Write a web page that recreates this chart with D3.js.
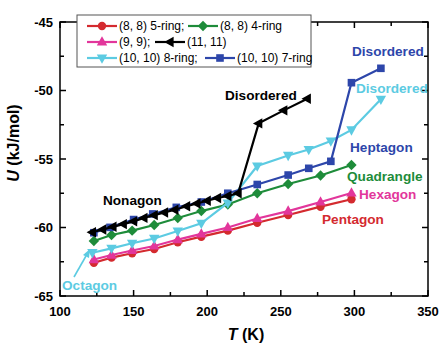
<!DOCTYPE html>
<html><head><meta charset="utf-8">
<script src="https://cdn.jsdelivr.net/npm/d3@7/dist/d3.min.js"></script>
<style>body{margin:0;background:#fff}svg{display:block;font-family:"Liberation Sans",Arial,sans-serif}</style>
</head><body>
<script>
// ---- data ----
const tA = [123,135,149,164,180,196,214,234,255,277,298];
const u5ring = [-62.57,-62.20,-61.88,-61.57,-61.08,-60.67,-60.23,-59.65,-59.09,-58.48,-57.94];
const u9 = [-62.34,-62.01,-61.68,-61.35,-60.88,-60.47,-60.00,-59.34,-58.80,-58.14,-57.48];
const u4ring = [-60.99,-60.55,-60.23,-59.82,-59.31,-58.80,-58.32,-57.50,-56.82,-56.20,-55.44];
const tB = [123,134,150,163,179,196,214,234,255,269,284,298,318];
const u7ring = [-60.38,-59.99,-59.42,-59.01,-58.53,-58.14,-57.50,-56.86,-56.17,-55.68,-55.17,-49.43,-48.38];
const tC = [122,135,149,164,180,196,214,234,255,269,284,298,318];
const u8ring = [-61.84,-61.52,-61.15,-60.80,-60.26,-59.69,-58.21,-55.51,-54.74,-54.31,-53.69,-52.88,-50.64];
const tD = [122,129,136,143,150,157,164,171,178,186,193,200,207,214,221,235,252,268];
const u11 = [-60.35,-60.15,-59.95,-59.75,-59.55,-59.30,-59.10,-58.90,-58.70,-58.45,-58.25,-58.05,-57.85,-57.70,-57.50,-52.40,-51.45,-50.60];
const xTicks = [100,150,200,250,300,350];
const yTicks = [-65,-60,-55,-50,-45];

const series = [
  {name:"(8, 8) 5-ring;", t:tA, u:u5ring, color:"#d42a2f", sym:"circle"},
  {name:"(9, 9);", t:tA, u:u9, color:"#e2369b", sym:"triUp"},
  {name:"(8, 8)  4-ring", t:tA, u:u4ring, color:"#1e8c3a", sym:"diamond"},
  {name:"(10, 10) 8-ring;", t:tC, u:u8ring, color:"#5ccbe2", sym:"triDown"},
  {name:"(10, 10) 7-ring", t:tB, u:u7ring, color:"#2d46aa", sym:"square"},
  {name:"(11, 11)", t:tD, u:u11, color:"#000000", sym:"triLeft"}
];

const W=441,H=343;
const svg=d3.select("body").append("svg").attr("width",W).attr("height",H);
const x=d3.scaleLinear().domain([100,350]).range([60,428]);
const y=d3.scaleLinear().domain([-65,-45]).range([296,22]);

function drawSym(g,sym,cx,cy,color){
  if(sym==="circle") g.append("circle").attr("cx",cx).attr("cy",cy).attr("r",4.2).attr("fill",color);
  else if(sym==="square") g.append("rect").attr("x",cx-3.8).attr("y",cy-3.8).attr("width",7.6).attr("height",7.6).attr("fill",color);
  else {
    let pts;
    if(sym==="diamond") pts=[[0,-5.2],[5.2,0],[0,5.2],[-5.2,0]];
    else if(sym==="triUp") pts=[[0,-5.8],[5.2,3.6],[-5.2,3.6]];
    else if(sym==="triDown") pts=[[0,5.8],[5.2,-3.6],[-5.2,-3.6]];
    else if(sym==="triLeft") pts=[[-5.8,0],[3.6,-5.2],[3.6,5.2]];
    g.append("polygon").attr("points",pts.map(p=>(cx+p[0])+","+(cy+p[1])).join(" ")).attr("fill",color);
  }
}

// frame and ticks
const frame=svg.append("g").attr("stroke","#000").attr("stroke-width",1.5);
frame.append("rect").attr("x",60).attr("y",22).attr("width",368).attr("height",274).attr("fill","none");
const xMinor=d3.range(100,351,25), yMinor=d3.range(-65,-44.9,2.5);
xMinor.forEach(v=>{
  const major=xTicks.includes(v); const L=major?6:4;
  frame.append("line").attr("x1",x(v)).attr("x2",x(v)).attr("y1",296).attr("y2",296-L);
  frame.append("line").attr("x1",x(v)).attr("x2",x(v)).attr("y1",22).attr("y2",22+L);
});
yMinor.forEach(v=>{
  const major=yTicks.includes(v); const L=major?6:4;
  frame.append("line").attr("y1",y(v)).attr("y2",y(v)).attr("x1",60).attr("x2",60+L);
  frame.append("line").attr("y1",y(v)).attr("y2",y(v)).attr("x1",428).attr("x2",428-L);
});
svg.append("g").selectAll("text").data(xTicks).join("text")
  .attr("x",d=>x(d)).attr("y",316).attr("text-anchor","middle")
  .attr("font-size",13).attr("font-weight","bold").text(d=>d);
svg.append("g").selectAll("text").data(yTicks).join("text")
  .attr("x",53).attr("y",d=>y(d)+4.5).attr("text-anchor","end")
  .attr("font-size",13).attr("font-weight","bold").text(d=>String(d).replace("\u2212","-"));
// axis titles
const xt=svg.append("text").attr("x",246).attr("y",340).attr("text-anchor","middle").attr("font-size",16).attr("font-weight","bold");
xt.append("tspan").attr("font-style","italic").text("T");xt.append("tspan").text(" (K)");
const yt=svg.append("text").attr("transform","translate(19,143) rotate(-90)").attr("text-anchor","middle").attr("font-size",16).attr("font-weight","bold");
yt.append("tspan").attr("font-style","italic").text("U");yt.append("tspan").text(" (kJ/mol)");

// series
const line=d3.line().x(d=>x(d[0])).y(d=>y(d[1]));
series.forEach(s=>{
  const pts=s.t.map((t,j)=>[t,s.u[j]]);
  const g=svg.append("g");
  g.append("path").attr("d",line(pts)).attr("fill","none").attr("stroke",s.color).attr("stroke-width",2.2);
  pts.forEach(p=>drawSym(g,s.sym,x(p[0]),y(p[1]),s.color));
});

// annotations
const ann=[
  {t:"Disordered",x:225,y:100,c:"#000"},
  {t:"Disordered",x:352,y:56,c:"#2d46aa"},
  {t:"Disordered",x:356,y:93,c:"#5ccbe2"},
  {t:"Heptagon",x:350,y:152,c:"#2d46aa"},
  {t:"Quadrangle",x:347,y:181,c:"#1e8c3a"},
  {t:"Hexagon",x:359,y:199,c:"#e2369b"},
  {t:"Pentagon",x:322,y:224,c:"#d42a2f"},
  {t:"Nonagon",x:103,y:205,c:"#000"},
  {t:"Octagon",x:62,y:290,c:"#5ccbe2"}
];
svg.append("g").selectAll("text").data(ann).join("text")
  .attr("x",d=>d.x).attr("y",d=>d.y).attr("fill",d=>d.c)
  .attr("font-size",13.6).attr("font-weight","bold").text(d=>d.t);
// octagon arrow
svg.append("line").attr("x1",74).attr("y1",277).attr("x2",86).attr("y2",256).attr("stroke","#5ccbe2").attr("stroke-width",1.6);
svg.append("polygon").attr("points","90,249 83,255 89,258").attr("fill","#5ccbe2");

// legend
const lg=svg.append("g");
lg.append("rect").attr("x",77).attr("y",15).attr("width",234).attr("height",52).attr("fill","#fff").attr("stroke","#555").attr("stroke-width",1);
const legItems=[
  {s:0,x:87,y:26},{s:2,x:188,y:26},
  {s:1,x:87,y:42},{s:5,x:155,y:42},
  {s:3,x:87,y:58},{s:4,x:205,y:58}
];
legItems.forEach(it=>{
  const s=series[it.s];
  lg.append("line").attr("x1",it.x).attr("x2",it.x+30).attr("y1",it.y).attr("y2",it.y).attr("stroke",s.color).attr("stroke-width",2.2);
  drawSym(lg,s.sym,it.x+15,it.y,s.color);
  lg.append("text").attr("x",it.x+32).attr("y",it.y+4.3).attr("font-size",12).text(s.name);
});
</script>
</body></html>
